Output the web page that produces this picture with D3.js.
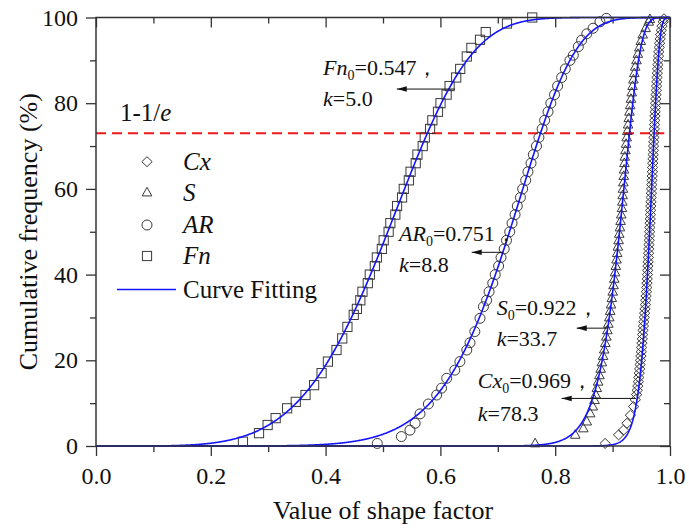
<!DOCTYPE html>
<html><head><meta charset="utf-8">
<script src="https://cdn.jsdelivr.net/npm/d3@7"></script>
<style>
html,body{margin:0;padding:0;background:#fff;}
</style></head><body>
<svg id="chart" width="689" height="531" font-family='"Liberation Serif"'></svg>
<script>
// Cumulative frequency of four particle shape factors with Weibull fits

const xTicks = [0, 0.2, 0.4, 0.6, 0.8, 1.0];
const xMinorTicks = [0.1, 0.3, 0.5, 0.7, 0.9];
const yTicks = [0, 20, 40, 60, 80, 100];
const yMinorTicks = [10, 30, 50, 70, 90];

const seriesNames = ["Cx", "S", "AR", "Fn"];

// measured points: [shape factor value, cumulative frequency %]
const cxPoints = [
  [0.887,0.6],[0.9105,2.6],[0.919,3.7],[0.925,5.3],[0.931,7.2],[0.9366,9.2],[0.9395,10.8],
  [0.9419,12],[0.9429,13],[0.9439,14],[0.9448,15],[0.9456,16],[0.9464,17],[0.9472,18],[0.9479,19],
  [0.9486,20],[0.9493,21],[0.9499,22],[0.9505,23],[0.9511,24],[0.9517,25],[0.9523,26],[0.9530,27],
  [0.9537,28],[0.9544,29],[0.9551,30],[0.9558,31],[0.9565,32],[0.9572,33],[0.9578,34],[0.9584,35],
  [0.9590,36],[0.9595,37],[0.9599,38],[0.9603,39],[0.9607,40],[0.9611,41],[0.9615,42],[0.9619,43],
  [0.9623,44],[0.9627,45],[0.9630,46],[0.9634,47],[0.9638,48],[0.9642,49],[0.9645,50],[0.9649,51],
  [0.9652,52],[0.9656,53],[0.9659,54],[0.9663,55],[0.9666,56],[0.9669,57],[0.9672,58],[0.9676,59],
  [0.9679,60],[0.9683,61],[0.9686,62],[0.9690,63],[0.9693,64],[0.9696,65],[0.9699,66],[0.9703,67],
  [0.9706,68],[0.9710,69],[0.9713,70],[0.9717,71],[0.9720,72],[0.9724,73],[0.9727,74],[0.9731,75],
  [0.9735,76],[0.9738,77],[0.9741,78],[0.9745,79],[0.9749,80],[0.9753,81],[0.9757,82],[0.9762,83],
  [0.9766,84],[0.9770,85],[0.9774,86],[0.9779,87],[0.9783,88],[0.9789,89],[0.9794,90],[0.9800,91],
  [0.9805,92],[0.9812,93],[0.9819,94],[0.9828,95],[0.9836,96],[0.9848,97],[0.9861,98],[0.9881,99],
  [0.9895,99.7]
];

const sPoints = [
  [0.765,0.6],[0.835,2.6],[0.849,4.1],[0.855,5.7],[0.861,7.6],[0.8655,9.2],[0.8685,10.7],
  [0.8705,12],[0.8725,13.5],[0.8748,15],[0.8770,16.5],[0.8792,18],[0.8813,19.5],[0.8834,21],
  [0.8854,22.5],[0.8873,24],[0.8891,25.5],[0.8909,27],[0.8926,28.5],[0.8942,30],[0.8958,31.5],
  [0.8973,33],[0.8987,34.5],[0.9002,36],[0.9016,37.5],[0.9029,39],[0.9043,40.5],[0.9056,42],
  [0.9068,43.5],[0.9080,45],[0.9092,46.5],[0.9105,48],[0.9116,49.5],[0.9128,51],[0.9139,52.5],
  [0.9151,54],[0.9163,55.5],[0.9169,57],[0.9175,58.5],[0.9181,60],[0.9187,61.5],[0.9194,63],
  [0.9200,64.5],[0.9206,66],[0.9212,67.5],[0.9224,69],[0.9235,70.5],[0.9246,72],[0.9257,73.5],
  [0.9270,75],[0.9282,76.5],[0.9294,78],[0.9307,79.5],[0.9320,81],[0.9333,82.5],[0.9348,84],
  [0.9362,85.5],[0.9378,87],[0.9394,88.5],[0.9416,90],[0.9440,91.5],[0.9465,93],[0.9492,94.5],
  [0.9525,96],[0.9575,97.5],[0.9630,99],[0.9650,99.6]
];

const arPoints = [
  [0.490,0.6],[0.532,2.2],[0.547,3.7],[0.556,5.3],[0.5645,7.5],[0.579,9.8],[0.5935,11.9],
  [0.602,13.5],[0.611,15.8],[0.625,17.7],[0.634,19.7],[0.646,22.4],[0.6516,24.1],[0.660,26.7],
  [0.669,29.8],[0.675,32.5],[0.6805,34],[0.6848,36],[0.6912,38],[0.6955,40],[0.7014,42],
  [0.7056,44],[0.7112,46],[0.7152,48],[0.7208,50],[0.7248,52],[0.7301,54],[0.7340,56],
  [0.7394,58],[0.7433,60],[0.7486,62],[0.7525,64],[0.7579,66],[0.7619,68],[0.7674,70],
  [0.7716,72],[0.7772,74],[0.7816,76],[0.7875,78],[0.7924,80],[0.7988,82],[0.8042,84],
  [0.8112,86],[0.8176,88],[0.8257,90],[0.8316,91.2],[0.8403,93.2],[0.846,94.7],[0.855,96.2],
  [0.866,97.5],[0.878,99],[0.889,99.8]
];

const fnPoints = [
  [0.256,1.0],[0.284,3.0],[0.299,4.9],[0.313,6.5],[0.333,8.8],[0.348,10.3],[0.365,11.9],
  [0.380,14.2],[0.393,17.0],[0.404,19.7],[0.419,22.4],[0.429,25.1],[0.438,27.8],[0.449,30.6],
  [0.4545,32],[0.4605,34],[0.4642,36],[0.4735,38],[0.4770,40],[0.4858,42],[0.4893,44],
  [0.4980,46],[0.5012,48],[0.5098,50],[0.5128,52],[0.5215,54],[0.5245,56],[0.5332,58],
  [0.5362,60],[0.5450,62],[0.5480,64],[0.5570,66],[0.5600,68],[0.5692,70],[0.5728,72],
  [0.5820,74],[0.5860,76],[0.5958,78],[0.6002,80],[0.6108,82],[0.6160,84],[0.6275,86],
  [0.6345,88],[0.646,90.9],[0.654,92.9],[0.669,94.8],[0.679,96.6],[0.716,98.6],[0.760,100]
];

// Weibull fit parameters, same order as seriesNames
const fitScale = [0.969, 0.922, 0.751, 0.547];
const fitShape = [78.3, 33.7, 8.8, 5.0];

const eLevel = 73;   // level of the dashed 1-1/e reference line (%)

// ---------- layout ----------
const FONT = '"Liberation Serif"';
const svg = d3.select("#chart");
const x = d3.scaleLinear().domain([0, 1]).range([96, 670]);
const y = d3.scaleLinear().domain([0, 100]).range([446, 17.5]);
const ink = "#333";

function addText(parent, size) {
  return parent.append("text").attr("font-family", FONT).attr("font-size", size).attr("fill", "#111");
}

// axes
function styleAxis(g) {
  g.attr("font-family", FONT);
  g.select(".domain").remove();
  g.selectAll(".tick line").attr("stroke", ink).attr("stroke-width", 1.3);
  g.selectAll(".tick text").attr("fill", "#111").attr("font-size", 24).attr("font-family", FONT);
}
svg.append("g").attr("transform", `translate(0,${y(0)})`)
  .call(d3.axisBottom(x).tickValues(xTicks).tickSize(10).tickPadding(11).tickFormat(d3.format(".1f")))
  .call(styleAxis);
svg.append("g").attr("transform", `translate(0,${y(0)})`)
  .call(d3.axisBottom(x).tickValues(xMinorTicks).tickSize(6).tickFormat(""))
  .call(styleAxis);
svg.append("g").attr("transform", `translate(0,${y(100)})`)
  .call(d3.axisTop(x).tickValues(xTicks).tickSize(-10).tickFormat(""))
  .call(styleAxis);
svg.append("g").attr("transform", `translate(0,${y(100)})`)
  .call(d3.axisTop(x).tickValues(xMinorTicks).tickSize(-6).tickFormat(""))
  .call(styleAxis);
svg.append("g").attr("transform", `translate(${x(0)},0)`)
  .call(d3.axisLeft(y).tickValues(yTicks).tickSize(10).tickPadding(8).tickFormat(d3.format("d")))
  .call(styleAxis);
svg.append("g").attr("transform", `translate(${x(0)},0)`)
  .call(d3.axisLeft(y).tickValues(yMinorTicks).tickSize(6).tickFormat(""))
  .call(styleAxis);
svg.append("g").attr("transform", `translate(${x(1)},0)`)
  .call(d3.axisRight(y).tickValues(yTicks).tickSize(-10).tickFormat(""))
  .call(styleAxis);
svg.append("g").attr("transform", `translate(${x(1)},0)`)
  .call(d3.axisRight(y).tickValues(yMinorTicks).tickSize(-6).tickFormat(""))
  .call(styleAxis);

// axis titles
addText(svg, 26).attr("x", (x(0) + x(1)) / 2).attr("y", 519)
  .attr("text-anchor", "middle").text("Value of shape factor");
addText(svg, 26).attr("transform", `translate(37,${(y(0) + y(100)) / 2}) rotate(-90)`)
  .attr("text-anchor", "middle").text("Cumulative frequency (%)");

// dashed 1-1/e line
svg.append("line")
  .attr("x1", x(0)).attr("x2", x(0.99)).attr("y1", y(eLevel)).attr("y2", y(eLevel))
  .attr("stroke", "#f01818").attr("stroke-width", 2).attr("stroke-dasharray", "10,6");
const eLabel = addText(svg, 25).attr("x", 120).attr("y", 121);
eLabel.append("tspan").text("1-1/");
eLabel.append("tspan").attr("font-style", "italic").text("e");

// marker shapes
const shapes = {
  Cx: g => g.append("path").attr("d", "M0,-5L5.2,0L0,5L-5.2,0Z"),
  S:  g => g.append("path").attr("d", "M0,-5.2L4.8,3.4L-4.8,3.4Z"),
  AR: g => g.append("circle").attr("r", 5),
  Fn: g => g.append("rect").attr("x", -4.6).attr("y", -4.6).attr("width", 9.2).attr("height", 9.2)
};
function drawMarker(parent, name, px, py) {
  const g = parent.append("g").attr("transform", `translate(${px},${py})`);
  shapes[name](g).attr("fill", "none").attr("stroke", "#3a3a3a").attr("stroke-width", 1);
}

const pointSets = [cxPoints, sPoints, arPoints, fnPoints];
const markerLayer = svg.append("g");
pointSets.forEach((pts, i) => {
  pts.forEach(p => drawMarker(markerLayer, seriesNames[i], x(p[0]), y(p[1])));
});

// fitted Weibull curves
const grid = d3.range(0, 1.0001, 0.001);
const line = d3.line().x(d => x(d[0])).y(d => y(d[1]));
fitScale.forEach((x0, i) => {
  const k = fitShape[i];
  const pts = grid.map(v => [v, 100 * (1 - Math.exp(-Math.pow(v / x0, k)))]);
  svg.append("path").attr("d", line(pts))
    .attr("fill", "none").attr("stroke", "#1414ff").attr("stroke-width", 1.6);
});

// frame
svg.append("rect").attr("x", x(0)).attr("y", y(100))
  .attr("width", x(1) - x(0)).attr("height", y(0) - y(100))
  .attr("fill", "none").attr("stroke", ink).attr("stroke-width", 1.5);

// parameter annotations with arrows
const defs = svg.append("defs");
defs.append("marker").attr("id", "arrowhead").attr("markerUnits", "userSpaceOnUse")
  .attr("viewBox", "0 -4 10 8").attr("refX", 10).attr("refY", 0)
  .attr("markerWidth", 10).attr("markerHeight", 8).attr("orient", "auto")
  .append("path").attr("d", "M0,-2.8L10,0L0,2.8Z").attr("fill", "#111");

// text anchor (data units) and arrow (from curve to text) for each series
const notePlace = [
  { tx: 0.665, ty1: 13.5, ty2: 5.8,  ax1: 0.9394, ax2: 0.8113, ay: 11.1 },
  { tx: 0.698, ty1: 30.6, ty2: 23.3, ax1: 0.890,  ax2: 0.8375, ay: 27.5 },
  { tx: 0.528, ty1: 47.8, ty2: 40.6, ax1: 0.7094, ax2: 0.6545, ay: 45.2 },
  { tx: 0.3955, ty1: 86.6, ty2: 79.3, ax1: 0.6254, ax2: 0.524, ay: 83.3 }
];
notePlace.forEach((n, i) => {
  svg.append("line").attr("x1", x(n.ax1)).attr("x2", x(n.ax2))
    .attr("y1", y(n.ay)).attr("y2", y(n.ay))
    .attr("stroke", "#111").attr("stroke-width", 1).attr("marker-end", "url(#arrowhead)");
  const t1 = addText(svg, 22).attr("x", x(n.tx)).attr("y", y(n.ty1));
  t1.append("tspan").attr("font-style", "italic").text(seriesNames[i]);
  t1.append("tspan").attr("dy", 5).attr("font-size", 14).text("0");
  t1.append("tspan").attr("dy", -5).text("=" + d3.format(".3f")(fitScale[i]) + "，");
  const t2 = addText(svg, 22).attr("x", x(n.tx)).attr("y", y(n.ty2));
  t2.append("tspan").attr("font-style", "italic").text("k");
  t2.append("tspan").text("=" + d3.format(".1f")(fitShape[i]));
});

// legend
const legendRows = [161.7, 192.5, 225, 256];
const legend = svg.append("g");
seriesNames.forEach((name, i) => {
  drawMarker(legend, name, 147, legendRows[i]);
  addText(legend, 25).attr("x", 183).attr("y", legendRows[i] + 8)
    .attr("font-style", "italic").text(name);
});
legend.append("line").attr("x1", 117).attr("x2", 176).attr("y1", 289.5).attr("y2", 289.5)
  .attr("stroke", "#1414ff").attr("stroke-width", 1.6);
addText(legend, 25).attr("x", 183).attr("y", 297.5).text("Curve Fitting");
</script>
</body></html>
